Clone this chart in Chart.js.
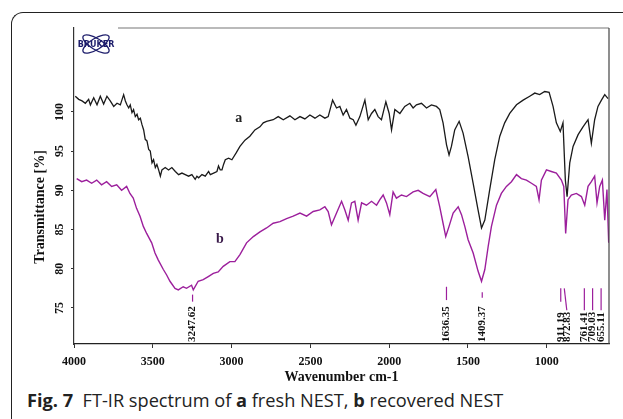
<!DOCTYPE html>
<html>
<head>
<meta charset="utf-8">
<script src="https://cdn.jsdelivr.net/npm/chart.js@4.4.1/dist/chart.umd.min.js"></script>
<style>
  html, body { margin: 0; padding: 0; background: #fff; }
  #wrap { position: relative; width: 623px; height: 419px; overflow: hidden; background: #fff; }
  #frame {
    position: absolute; left: 11px; top: 12px; width: 700px; height: 500px;
    border-top: 1.5px solid #222; border-left: 1.5px solid #222;
    border-top-left-radius: 12px;
  }
  #chart { position: absolute; left: 0; top: 0; }
  #caption {
    position: absolute; left: 27px; top: 388px; white-space: nowrap;
    font-family: "Open Sans", sans-serif; font-size: 18.2px; color: #222;
  }
  #caption b { font-weight: 700; }
</style>
</head>
<body>
<div id="wrap">
  <div id="frame"></div>
  <canvas id="chart" width="623" height="388"></canvas>
  <div id="caption"><b>Fig. 7</b>&nbsp; FT-IR spectrum of <b>a</b> fresh NEST, <b>b</b> recovered NEST</div>
</div>
<script>
//spectrum a (fresh NEST)
var freshWn = [3992, 3970, 3949, 3928, 3907, 3896, 3875, 3854, 3833, 3812, 3791, 3770, 3748, 3727, 3706, 3685, 3674, 3664, 3653, 3643,
  3632, 3622, 3611, 3600, 3590, 3579, 3569, 3558, 3548, 3537, 3526, 3516, 3505, 3495, 3484, 3474, 3463, 3452, 3442, 3421,
  3400, 3379, 3357, 3336, 3315, 3294, 3273, 3252, 3231, 3220, 3209, 3188, 3167, 3146, 3135, 3114, 3093, 3083, 3072, 3061,
  3051, 3040, 3019, 2998, 2970, 2947, 2915, 2884, 2852, 2820, 2799, 2778, 2736, 2704, 2672, 2630, 2598, 2566, 2535, 2503,
  2471, 2440, 2408, 2387, 2359, 2334, 2313, 2292, 2271, 2249, 2228, 2211, 2186, 2154, 2133, 2112, 2091, 2070, 2049, 2021,
  2000, 1985, 1964, 1932, 1901, 1869, 1848, 1827, 1795, 1763, 1732, 1700, 1679, 1658, 1636, 1620, 1605, 1584, 1556, 1531,
  1499, 1467, 1436, 1414, 1393, 1362, 1330, 1298, 1267, 1235, 1192, 1150, 1108, 1076, 1045, 1013, 985, 960, 939, 914,
  897, 882, 871, 854, 833, 801, 770, 738, 717, 696, 675, 653, 632, 611];
var freshT = [102.0, 101.6, 101.4, 101.1, 101.6, 100.9, 101.8, 100.9, 102.0, 101.0, 102.0, 101.4, 100.7, 101.1, 100.9, 102.2, 101.4, 100.9, 100.5, 100.9,
  99.9, 100.3, 99.4, 99.7, 99.0, 99.2, 98.4, 97.7, 96.5, 96.3, 95.2, 95.0, 93.5, 93.9, 92.9, 93.3, 92.6, 91.8, 92.6, 92.9,
  92.6, 92.9, 92.4, 92.0, 92.2, 92.0, 91.8, 92.0, 91.4, 91.8, 91.6, 92.0, 91.8, 92.4, 92.0, 92.2, 92.4, 93.1, 92.6, 92.6,
  93.3, 93.9, 94.1, 93.9, 94.8, 95.6, 96.4, 96.9, 97.7, 98.1, 98.6, 98.8, 99.0, 99.4, 99.0, 99.5, 99.0, 99.4, 99.1, 99.6,
  99.2, 99.6, 99.2, 99.4, 101.5, 100.5, 100.7, 99.6, 100.3, 99.2, 99.0, 98.3, 99.4, 101.5, 99.0, 99.8, 100.3, 99.4, 99.0, 101.3,
  99.8, 97.7, 100.3, 99.8, 100.7, 101.1, 100.5, 100.9, 101.1, 100.5, 100.9, 100.7, 100.3, 98.6, 95.8, 94.5, 95.6, 97.7, 98.8, 97.3,
  94.3, 90.9, 87.5, 85.2, 86.2, 90.1, 93.9, 96.9, 98.6, 99.8, 100.9, 101.5, 102.0, 102.4, 102.2, 102.6, 102.5, 100.7, 98.6, 97.5,
  98.6, 91.3, 89.2, 93.5, 95.6, 97.1, 98.1, 99.0, 96.0, 99.0, 100.7, 101.5, 102.2, 101.7];

//spectrum b (recovered NEST)
var recoveredWn = [3983, 3951, 3920, 3888, 3856, 3825, 3793, 3761, 3729, 3698, 3666, 3645, 3624, 3603, 3581, 3560, 3539, 3507, 3486, 3465,
  3433, 3412, 3391, 3359, 3338, 3307, 3286, 3254, 3243, 3212, 3180, 3148, 3116, 3085, 3053, 3011, 2979, 2947, 2905, 2862,
  2820, 2778, 2736, 2693, 2651, 2609, 2566, 2524, 2482, 2440, 2408, 2387, 2366, 2334, 2302, 2281, 2260, 2239, 2218, 2197,
  2175, 2144, 2112, 2080, 2059, 2038, 2017, 1996, 1975, 1954, 1922, 1890, 1848, 1816, 1785, 1742, 1704, 1679, 1658, 1641,
  1620, 1594, 1562, 1541, 1520, 1499, 1467, 1436, 1414, 1393, 1372, 1351, 1319, 1288, 1256, 1224, 1192, 1161, 1129, 1097,
  1066, 1049, 1034, 1002, 971, 939, 907, 892, 880, 865, 844, 812, 780, 759, 738, 717, 696, 681, 664, 647,
  632, 618, 607];
var recoveredT = [91.5, 91.1, 91.3, 90.9, 91.3, 90.7, 91.1, 90.5, 90.7, 90.0, 90.5, 89.6, 89.0, 87.7, 86.7, 85.4, 84.5, 83.3, 82.0, 81.1,
  79.9, 79.2, 78.4, 77.5, 77.3, 77.7, 77.5, 77.9, 77.3, 78.4, 78.6, 79.0, 79.4, 79.6, 80.3, 80.9, 80.9, 81.8, 83.3, 84.1,
  84.7, 85.2, 85.8, 86.0, 86.4, 86.7, 87.1, 86.7, 87.3, 87.5, 87.9, 87.3, 85.6, 87.1, 88.6, 87.5, 86.2, 88.4, 88.6, 86.2,
  88.4, 88.1, 88.6, 88.1, 88.8, 89.4, 88.4, 86.9, 89.8, 89.0, 89.4, 89.2, 89.8, 90.0, 89.6, 89.2, 90.1, 87.9, 85.8, 84.1,
  85.4, 87.1, 87.9, 86.9, 85.4, 83.7, 82.0, 79.7, 78.4, 79.9, 82.8, 85.4, 88.1, 89.6, 90.5, 91.1, 92.0, 91.5, 91.3, 90.9,
  90.5, 88.8, 91.3, 92.6, 92.4, 92.2, 91.3, 90.5, 84.5, 88.8, 89.4, 89.6, 89.2, 88.1, 90.5, 91.1, 91.8, 88.4, 90.5, 91.3,
  86.2, 90.1, 83.3];

//axis ticks
var xTicks = [4000, 3500, 3000, 2500, 2000, 1500, 1000];
var yTicks = [75, 80, 85, 90, 95, 100];

//marked bands
var peakWn = [3247.62, 1636.35, 1409.37, 911.19, 872.83, 761.41, 709.03, 655.11];
var peakLabels = ['3247.62', '1636.35', '1409.37', '911.19', '872.83', '761.41', '709.03', '655.11'];

var serif = '"Liberation Serif", "Times New Roman", serif';
var purple = '#9c1f9c';

function toPoints(xs, ys) {
    return xs.map(function (x, i) { return { x: x, y: ys[i] }; });
}

// extras: frame lines, logo, curve letters, band marks, y title
var decorations = {
    id: 'decorations',
    afterDraw: function (chart) {
        const ctx = chart.ctx;
        const a = chart.chartArea;
        const xs = chart.scales.x;
        const ys = chart.scales.y;
        ctx.save();

        //top and right frame
        ctx.strokeStyle = '#777';
        ctx.lineWidth = 1.2;
        ctx.beginPath();
        ctx.moveTo(a.left + 44, a.top);
        ctx.lineTo(a.right, a.top);
        ctx.stroke();
        ctx.strokeStyle = '#444';
        ctx.beginPath();
        ctx.moveTo(a.right, a.top);
        ctx.lineTo(a.right, a.bottom);
        ctx.stroke();

        //bruker logo
        const cx = a.left + 22, cy = a.top + 16;
        ctx.strokeStyle = '#1d1d6b';
        ctx.lineWidth = 1.3;
        [0.55, -0.55].forEach(function (r) {
            ctx.beginPath();
            ctx.ellipse(cx, cy, 15, 5.5, r, 0, Math.PI * 2);
            ctx.stroke();
        });
        ctx.fillStyle = '#1d1d6b';
        ctx.font = 'bold 8px "DejaVu Sans", sans-serif';
        ctx.textAlign = 'center';
        ctx.textBaseline = 'middle';
        ctx.fillText('BRUKER', cx, cy + 1);

        //curve letters
        ctx.fillStyle = '#222';
        ctx.font = 'bold 14px ' + serif;
        ctx.fillText('a', xs.getPixelForValue(2954), ys.getPixelForValue(99.2));
        ctx.fillStyle = '#3a1a4a';
        ctx.fillText('b', xs.getPixelForValue(3074), ys.getPixelForValue(83.7));

        //band marks
        const markTop = [76.7, 77.7, 77.0, 77.5, 77.5, 77.5, 77.5, 77.5];
        const markBottom = [75.8, 76.0, 76.3, 75.8, 74.7, 74.7, 74.7, 74.7];
        ctx.strokeStyle = purple;
        ctx.lineWidth = 1.2;
        peakWn.forEach(function (w, i) {
            const px = xs.getPixelForValue(w);
            const topX = i === 4 ? xs.getPixelForValue(w + 16) : px;
            ctx.beginPath();
            ctx.moveTo(topX, ys.getPixelForValue(markTop[i]));
            ctx.lineTo(px, ys.getPixelForValue(markBottom[i]));
            ctx.stroke();
        });
        ctx.fillStyle = '#111';
        ctx.font = 'bold 11px ' + serif;
        ctx.textAlign = 'left';
        peakWn.forEach(function (w, i) {
            ctx.save();
            ctx.translate(xs.getPixelForValue(w), a.bottom - 2);
            ctx.rotate(-Math.PI / 2);
            ctx.fillText(peakLabels[i], 0, 0);
            ctx.restore();
        });

        //y axis title
        ctx.fillStyle = '#111';
        ctx.font = 'bold 14px ' + serif;
        ctx.textAlign = 'center';
        ctx.save();
        ctx.translate(40, 207);
        ctx.rotate(-Math.PI / 2);
        ctx.fillText('Transmittance [%]', 0, 0);
        ctx.restore();

        ctx.restore();
    }
};

const ctx = document.getElementById('chart').getContext('2d');
const spectrumChart = new Chart(ctx, {
    type: 'line',
    data: {
        datasets: [{
            label: 'a',
            data: toPoints(freshWn, freshT),
            borderColor: '#1a1a1a',
            borderWidth: 1.3,
            pointRadius: 0,
            tension: 0
        }, {
            label: 'b',
            data: toPoints(recoveredWn, recoveredT),
            borderColor: purple,
            borderWidth: 1.4,
            pointRadius: 0,
            tension: 0
        }]
    },
    options: {
        responsive: false,
        animation: false,
        devicePixelRatio: 1,
        layout: { padding: { left: 0, top: 28, right: 14, bottom: 0 } },
        plugins: {
            legend: { display: false },
            tooltip: { enabled: false }
        },
        scales: {
            x: {
                type: 'linear',
                reverse: true,
                min: 605,
                max: 4000,
                afterBuildTicks: function (s) { s.ticks = xTicks.map(function (v) { return { value: v }; }); },
                afterFit: function (s) { s.height = 44; },
                grid: { display: true, drawOnChartArea: false, tickLength: 4, color: '#333' },
                border: { display: true, color: '#222', width: 1.2 },
                ticks: {
                    color: '#111',
                    padding: 7,
                    maxRotation: 0,
                    callback: function (v) { return String(v); },
                    font: { family: serif, size: 12, weight: 'bold' }
                },
                title: {
                    display: true,
                    text: 'Wavenumber cm-1',
                    color: '#111',
                    padding: { top: 0, bottom: 2 },
                    font: { family: serif, size: 14, weight: 'bold' }
                }
            },
            y: {
                min: 70.4,
                max: 110.7,
                afterBuildTicks: function (s) { s.ticks = yTicks.map(function (v) { return { value: v }; }); },
                afterFit: function (s) { s.width = 74; },
                grid: { display: true, drawOnChartArea: false, tickLength: 3, color: '#333' },
                border: { display: true, color: '#333', width: 1.2 },
                ticks: {
                    color: '#111',
                    padding: 2,
                    minRotation: 90,
                    maxRotation: 90,
                    crossAlign: 'center',
                    callback: function (v) { return String(v); },
                    font: { family: serif, size: 12, weight: 'bold' }
                }
            }
        }
    },
    plugins: [decorations]
});
</script>
</body>
</html>
